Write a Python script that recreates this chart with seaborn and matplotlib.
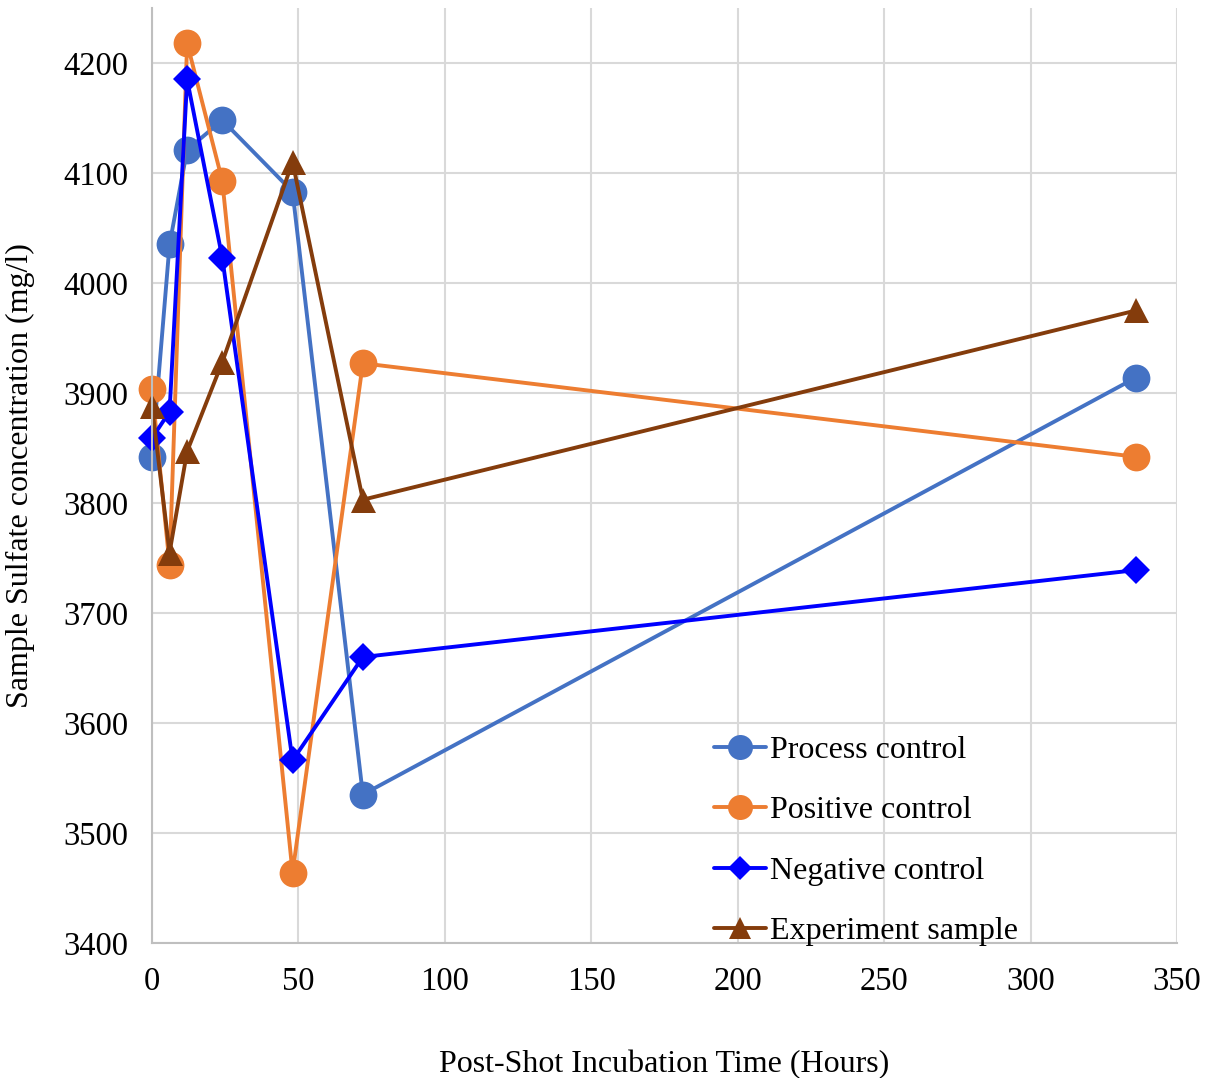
import matplotlib
matplotlib.use("Agg")
import matplotlib.pyplot as plt
import seaborn as sns
import pandas as pd

hours = [0, 6, 12, 24, 48, 72, 336]
process_control = [3842, 4035, 4121, 4148, 4083, 3535, 3914]
positive_control = [3904, 3744, 4218, 4093, 3464, 3927, 3842]
negative_control = [3859, 3883, 4185, 4023, 3566, 3660, 3739]
experiment_sample = [3888, 3755, 3847, 3928, 4110, 3803, 3975]

series = ["Process control", "Positive control", "Negative control", "Experiment sample"]
values = [process_control, positive_control, negative_control, experiment_sample]
colors = ["#4472C4", "#ED7D31", "#0000FF", "#843C0C"]
markers = ["o", "o", "D", "^"]
msizes = [20, 20, 14, 18]

df = pd.concat(
    [pd.DataFrame({"hours": hours, "conc": v, "series": s}) for s, v in zip(series, values)],
    ignore_index=True,
)

sns.set_theme(style="white")
plt.rcParams["font.family"] = ["Liberation Serif", "DejaVu Serif"]
plt.rcParams["text.color"] = "black"
plt.rcParams["axes.labelcolor"] = "black"

fig = plt.figure(figsize=(12.12, 10.78), dpi=100)
ax = fig.add_axes([0.1254, 0.1252, 0.8457, 0.8674])

for s, c, m, ms in zip(series, colors, markers, msizes):
    sns.lineplot(
        data=df[df["series"] == s], x="hours", y="conc",
        color=c, marker=m, markersize=ms, markeredgewidth=0,
        linewidth=2.8, label=s, ax=ax, sort=False, clip_on=False,
    )

ax.set_xlim(0, 350)
ax.set_ylim(3400, 4250)
ax.set_xticks(range(0, 351, 50))
ax.set_yticks(range(3400, 4201, 100))
ax.grid(True, color="#D9D9D9", linewidth=1.5)
ax.set_axisbelow(True)
for sp in ["top", "right"]:
    ax.spines[sp].set_visible(False)
for sp in ["left", "bottom"]:
    ax.spines[sp].set_color("#BFBFBF")
    ax.spines[sp].set_linewidth(1.5)
ax.tick_params(axis="both", colors="#BFBFBF", length=7, width=1.5, labelsize=23.5,
               labelcolor="black", pad=10)

ax.set_xlabel("Post-Shot Incubation Time (Hours)", fontsize=23, labelpad=38)
ax.set_ylabel("Sample Sulfate concentration (mg/l)", fontsize=23, labelpad=20)

ax.legend(loc="lower left", bbox_to_anchor=(0.52, -0.034), frameon=False,
          fontsize=23, handlelength=1.65, handletextpad=0.1, labelspacing=0.97,
          markerscale=0.9)

fig.savefig("out.png", dpi=100)
